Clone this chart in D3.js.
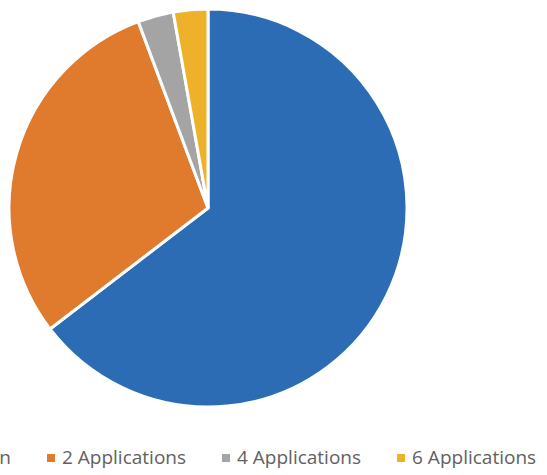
<!DOCTYPE html>
<html lang="en">
<head>
  <meta charset="UTF-8">
  <title>Applications Pie</title>
  <script src="https://d3js.org/d3.v7.min.js"></script>
  <style>
    body { margin: 0; background: #fff; }
    svg { display: block; }
    .legend text { font-family: "Open Sans", Lato, sans-serif; font-size: 19px; fill: #616161; }
  </style>
</head>
<body>
  <script>
    // Categories and share of each (percent)
    const categories = ["1 Application", "2 Applications", "4 Applications", "6 Applications"];
    const shares = [64.6, 29.7, 2.9, 2.8];
    const colors = ["#2c6cb5", "#e07a2c", "#a4a4a4", "#eeb22a"];

    const width = 547, height = 475;
    const cx = 208, cy = 208, radius = 199;

    const svg = d3.select("body")
                  .append("svg")
                  .attr("width", width)
                  .attr("height", height);

    const data = categories.map((c, i) => ({ name: c, value: shares[i], color: colors[i] }));

    const pie = d3.pie()
                  .value(d => d.value)
                  .sort(null);

    const arc = d3.arc()
                  .innerRadius(0)
                  .outerRadius(radius);

    svg.append("g")
       .attr("transform", `translate(${cx},${cy})`)
       .selectAll("path")
       .data(pie(data))
       .enter()
       .append("path")
       .attr("d", arc)
       .attr("fill", d => d.data.color)
       .attr("stroke", "#fff")
       .attr("stroke-width", 3)
       .attr("stroke-linejoin", "round");

    // Legend along the bottom; the first entry runs off the left edge
    const markerGap = 15, itemGap = 36;
    const legend = svg.selectAll(".legend")
                      .data(data)
                      .enter()
                      .append("g")
                      .attr("class", "legend");

    legend.append("rect")
          .attr("x", 0)
          .attr("y", -4)
          .attr("width", 8)
          .attr("height", 8)
          .attr("fill", d => d.color);

    legend.append("text")
          .attr("x", markerGap)
          .attr("y", 6)
          .text(d => d.name);

    // lay the items out by their text widths, second item's marker at x = 47
    const widths = legend.select("text").nodes().map(n => n.getComputedTextLength());
    let x = 47 - (markerGap + widths[0] + itemGap);
    legend.each(function(d, i) {
      d3.select(this).attr("transform", `translate(${x}, 458)`);
      x += markerGap + widths[i] + itemGap;
    });
  </script>
</body>
</html>
